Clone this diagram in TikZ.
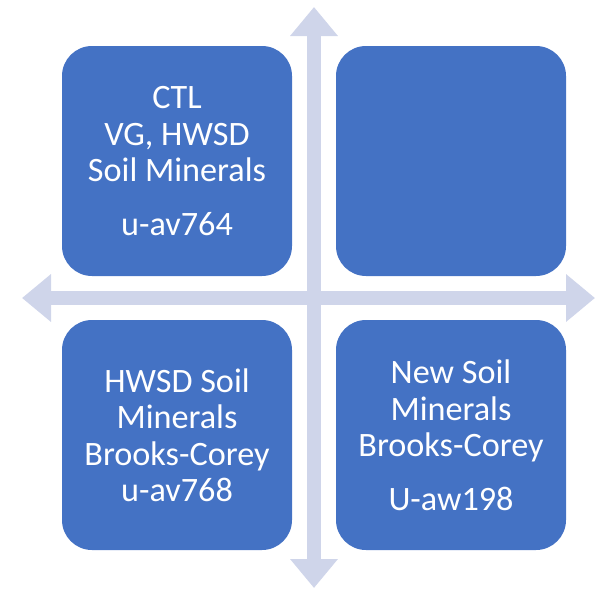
\documentclass[tikz,border=0pt]{standalone}
\usepackage{fontspec}
\setmainfont{Carlito}
\usetikzlibrary{arrows.meta}
\definecolor{boxblue}{HTML}{4472C4}
\definecolor{axislav}{HTML}{CFD5EA}

\begin{document}
\begin{tikzpicture}[x=1pt,y=-1pt,
	quad/.style={fill=boxblue,draw=none,rounded corners=30pt,minimum width=230pt,minimum height=230pt,
		text=white,align=center,font=\fontsize{34.2}{36.5}\selectfont,inner sep=0pt},
	axis/.style={axislav,line width=14pt,{Triangle[length=29pt,width=46pt]}-{Triangle[length=29pt,width=46pt]}}]
	\useasboundingbox (0,0) rectangle (596,589);

	\coordinate (up) at (314,7);
	\coordinate (down) at (314,588);
	\coordinate (left) at (22,298);
	\coordinate (right) at (595,298);
	\draw[axis] (down) -- (up);
	\draw[axis] (left) -- (right);

	\node[quad] (ctl) at (177,161) {CTL\\VG, HWSD\\Soil Minerals\\[17pt]u-av764};
	\node[quad] (empty) at (451,161) {};
	\node[quad] (hwsd) at (177,435) {HWSD Soil\\Minerals\\Brooks-Corey\\u-av768};
	\node[quad] (newsoil) at (451,435) {New Soil\\Minerals\\Brooks-Corey\\[17pt]U-aw198};

\end{tikzpicture}
\end{document}
